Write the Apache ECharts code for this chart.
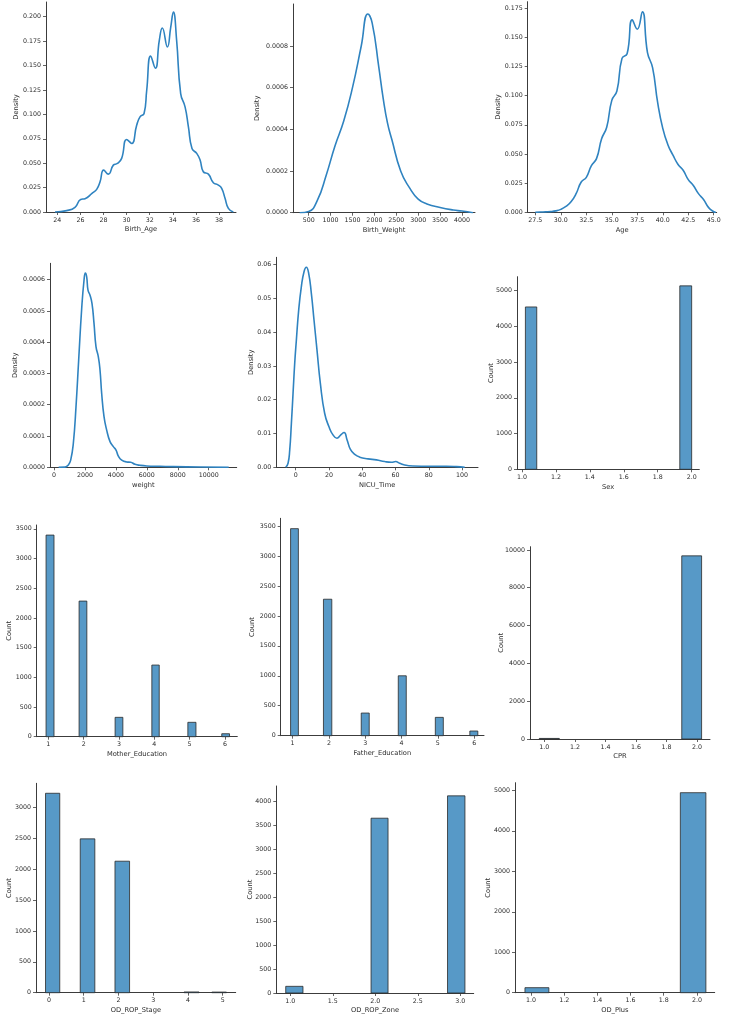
<!DOCTYPE html>
<html>
<head>
<meta charset="utf-8">
<title>Feature distributions</title>
<script src="https://cdn.jsdelivr.net/npm/echarts@6.0.0/dist/echarts.min.js"></script>
<style>
  html, body { margin: 0; padding: 0; background: #fff; }
  #chart { width: 729px; height: 1016px; }
</style>
</head>
<body>
<div id="chart"></div>
<script>
// ---- KDE curves ----
const birthAgeX = [23.80, 24.81, 25.53, 26.02, 26.40, 27.00, 27.41, 27.70, 28.01, 28.42, 28.85, 29.20, 29.57, 30.00, 30.44, 30.87, 31.16, 31.51, 31.74, 32.08, 32.49, 32.83, 33.09, 33.53, 33.82, 34.05, 34.33, 34.68, 35.06, 35.35, 35.66, 36.07, 36.36, 36.64, 37.08, 37.51, 37.94, 38.23, 38.52, 38.81, 39.24];
const birthAgeY = [0, 0.0014, 0.0048, 0.0129, 0.0136, 0.0191, 0.0232, 0.0310, 0.0429, 0.0388, 0.0480, 0.0497, 0.0549, 0.0743, 0.0702, 0.0889, 0.0974, 0.1009, 0.1247, 0.1598, 0.1472, 0.1758, 0.1884, 0.1690, 0.1894, 0.2048, 0.1758, 0.1213, 0.1077, 0.0872, 0.0651, 0.0600, 0.0532, 0.0412, 0.0388, 0.0300, 0.0276, 0.0242, 0.0140, 0.0037, 0];

const birthWeightX = [295, 500, 700, 900, 1100, 1300, 1500, 1700, 1850, 1950, 2100, 2200, 2300, 2400, 2600, 2800, 3000, 3200, 3500, 3800, 4000, 4250];
const birthWeightY = [0, 0.000006, 0.00006, 0.00018, 0.00032, 0.00044, 0.0006, 0.0008, 0.000954, 0.00091, 0.0007, 0.00055, 0.00043, 0.00035, 0.0002, 0.00012, 0.000065, 0.000042, 0.000025, 0.000013, 0.000008, 0];

const ageX = [27.5, 28, 28.5, 29, 29.5, 30, 30.5, 31, 31.5, 32, 32.5, 33, 33.5, 34, 34.5, 35, 35.5, 36, 36.5, 37, 37.5, 38, 38.5, 39, 39.5, 40, 40.5, 41, 41.5, 42, 42.5, 43, 43.5, 44, 44.5, 45, 45.2];
const ageY = [0, 0.0002, 0.0004, 0.0006, 0.0012, 0.0025, 0.005, 0.009, 0.016, 0.026, 0.030, 0.040, 0.046, 0.063, 0.073, 0.096, 0.104, 0.132, 0.136, 0.165, 0.157, 0.172, 0.137, 0.124, 0.094, 0.072, 0.058, 0.049, 0.041, 0.036, 0.028, 0.023, 0.016, 0.011, 0.004, 0.0005, 0];

const weightX = [300, 711, 927, 1078, 1250, 1422, 1595, 1789, 1940, 2026, 2112, 2198, 2328, 2457, 2586, 2716, 2866, 2974, 3082, 3233, 3405, 3621, 3836, 4009, 4159, 4375, 4698, 4957, 5237, 5560, 5991, 6853, 7716, 9440, 11293];
const weightY = [0, 0.0000005, 0.0000074, 0.000023, 0.000077, 0.000194, 0.000343, 0.000507, 0.000598, 0.000621, 0.000609, 0.000566, 0.000550, 0.000523, 0.000460, 0.000385, 0.000353, 0.000311, 0.000236, 0.000162, 0.000119, 0.000082, 0.000066, 0.000055, 0.000036, 0.000023, 0.000017, 0.000016, 0.0000096, 0.0000064, 0.0000043, 0.0000032, 0.0000021, 0.000001, 0];

const nicuX = [-6.0, -4.6, -3.6, -2.6, -1.6, -0.6, 0.4, 1.8, 3.4, 5.0, 6.4, 7.8, 9.4, 11.0, 12.8, 14.8, 17.4, 20.0, 22.4, 24.8, 27.1, 29.1, 30.9, 32.9, 35.5, 38.5, 43.5, 48.5, 53.5, 57.5, 60.1, 62.5, 65.5, 70.5, 80.6, 90.6, 96.6, 101.6];
const nicuY = [0, 0.0012, 0.0051, 0.0130, 0.0219, 0.0308, 0.0377, 0.0466, 0.0535, 0.0579, 0.0592, 0.0574, 0.0515, 0.0436, 0.0347, 0.0249, 0.0160, 0.0120, 0.0096, 0.0086, 0.0096, 0.0103, 0.0081, 0.0053, 0.0038, 0.0030, 0.0025, 0.0022, 0.0017, 0.0015, 0.0017, 0.0012, 0.0007, 0.0004, 0.0003, 0.0003, 0.0002, 0];

// ---- histograms: bin [left, right] and count ----
const sexBins = [[1.02, 1.087], [1.93, 2.0]];
const sexCounts = [4540, 5130];

const motherEduBins = [[0.935, 1.16], [1.87, 2.09], [2.89, 3.11], [3.93, 4.14], [4.95, 5.18], [5.91, 6.13]];
const motherEduCounts = [3394, 2283, 326, 1206, 242, 50];

const fatherEduBins = [[0.945, 1.16], [1.85, 2.08], [2.89, 3.11], [3.91, 4.13], [4.93, 5.15], [5.88, 6.1]];
const fatherEduCounts = [3456, 2278, 378, 1000, 306, 78];

const cprBins = [[0.967, 1.098], [1.90, 2.03]];
const cprCounts = [30, 9684];

const ropStageBins = [[-0.1, 0.31], [0.9, 1.32], [1.9, 2.32], [3.89, 4.32], [4.69, 5.11]];
const ropStageCounts = [3232, 2493, 2131, 12, 10];

const ropZoneBins = [[0.946, 1.149], [1.95, 2.15], [2.85, 3.055]];
const ropZoneCounts = [139, 3645, 4111];

const odPlusBins = [[0.964, 1.108], [1.90, 2.054]];
const odPlusCounts = [124, 4942];

// ---- tick values ----
const birthAgeTicks = [24, 26, 28, 30, 32, 34, 36, 38];
const birthAgeDensTicks = [0, 0.025, 0.05, 0.075, 0.1, 0.125, 0.15, 0.175, 0.2];
const birthWeightTicks = [500, 1000, 1500, 2000, 2500, 3000, 3500, 4000];
const birthWeightDensTicks = [0, 0.0002, 0.0004, 0.0006, 0.0008];
const ageTicks = [27.5, 30, 32.5, 35, 37.5, 40, 42.5, 45];
const ageDensTicks = [0, 0.025, 0.05, 0.075, 0.1, 0.125, 0.15, 0.175];
const weightTicks = [0, 2000, 4000, 6000, 8000, 10000];
const weightDensTicks = [0, 0.0001, 0.0002, 0.0003, 0.0004, 0.0005, 0.0006];
const nicuTicks = [0, 20, 40, 60, 80, 100];
const nicuDensTicks = [0, 0.01, 0.02, 0.03, 0.04, 0.05, 0.06];
const binaryTicks = [1.0, 1.2, 1.4, 1.6, 1.8, 2.0];
const sexCountTicks = [0, 1000, 2000, 3000, 4000, 5000];
const eduTicks = [1, 2, 3, 4, 5, 6];
const eduCountTicks = [0, 500, 1000, 1500, 2000, 2500, 3000, 3500];
const cprCountTicks = [0, 2000, 4000, 6000, 8000, 10000];
const stageTicks = [0, 1, 2, 3, 4, 5];
const stageCountTicks = [0, 500, 1000, 1500, 2000, 2500, 3000];
const zoneTicks = [1.0, 1.5, 2.0, 2.5, 3.0];
const zoneCountTicks = [0, 500, 1000, 1500, 2000, 2500, 3000, 3500, 4000];
const plusCountTicks = [0, 1000, 2000, 3000, 4000, 5000];

const LINE_COLOR = '#2f83c0';
const BAR_FILL = '#5799c7';
const BAR_EDGE = '#2a2a2a';
const AXIS_COLOR = '#3c3c3c';
const TEXT_COLOR = '#2a2a2a';

const zip = (xs, ys) => xs.map((x, i) => [x, ys[i]]);
const binData = (bins, counts) => bins.map((b, i) => [b[0], b[1], counts[i]]);

// layout of every subplot, measured in page pixels
const panels = [
  { rect: [46, 2, 190, 210], x: [23.02, 39.47], xt: birthAgeTicks, xd: 0, yt: birthAgeDensTicks, yd: 3, xName: 'Birth_Age', yName: 'Density', yGap: 26, kde: zip(birthAgeX, birthAgeY) },
  { rect: [293, 4, 182, 208.7], x: [142, 4297], xt: birthWeightTicks, xd: 0, yt: birthWeightDensTicks, yd: 4, xName: 'Birth_Weight', yName: 'Density', yGap: 32, kde: zip(birthWeightX, birthWeightY) },
  { rect: [527.7, 1.7, 189, 210.6], x: [26.75, 45.29], xt: ageTicks, xd: 1, yt: ageDensTicks, yd: 3, xName: 'Age', yName: 'Density', yGap: 26, kde: zip(ageX, ageY) },
  { rect: [50, 263.3, 186.7, 204], x: [-259, 11810], xt: weightTicks, xd: 0, yt: weightDensTicks, yd: 4, xName: 'weight', yName: 'Density', yGap: 31, kde: zip(weightX, weightY) },
  { rect: [276.3, 257.3, 201.7, 210], x: [-11.67, 109.6], xt: nicuTicks, xd: 0, yt: nicuDensTicks, yd: 2, xName: 'NICU_Time', yName: 'Density', yGap: 22, kde: zip(nicuX, nicuY) },
  { rect: [517, 276.7, 182.3, 192.6], x: [0.9705, 2.045], xt: binaryTicks, xd: 1, yt: sexCountTicks, yd: 0, xName: 'Sex', yName: 'Count', yGap: 22, bins: binData(sexBins, sexCounts) },
  { rect: [36.7, 525, 200.6, 211.7], x: [0.67, 6.35], xt: eduTicks, xd: 0, yt: eduCountTicks, yd: 0, xName: 'Mother_Education', yName: 'Count', yGap: 24, bins: binData(motherEduBins, motherEduCounts) },
  { rect: [280.7, 518.3, 203.3, 217.4], x: [0.673, 6.27], xt: eduTicks, xd: 0, yt: eduCountTicks, yd: 0, xName: 'Father_Education', yName: 'Count', yGap: 25, bins: binData(fatherEduBins, fatherEduCounts) },
  { rect: [530, 546.7, 180, 192.3], x: [0.906, 2.085], xt: binaryTicks, xd: 1, yt: cprCountTicks, yd: 0, xName: 'CPR', yName: 'Count', yGap: 25, bins: binData(cprBins, cprCounts) },
  { rect: [36, 783.3, 199.7, 209.4], x: [-0.374, 5.376], xt: stageTicks, xd: 0, yt: stageCountTicks, yd: 0, xName: 'OD_ROP_Stage', yName: 'Count', yGap: 23, bins: binData(ropStageBins, ropStageCounts) },
  { rect: [276.3, 786, 197.4, 207], x: [0.835, 3.158], xt: zoneTicks, xd: 1, yt: zoneCountTicks, yd: 0, xName: 'OD_ROP_Zone', yName: 'Count', yGap: 23, bins: binData(ropZoneBins, ropZoneCounts) },
  { rect: [515, 782.7, 199.7, 210], x: [0.904, 2.107], xt: binaryTicks, xd: 1, yt: plusCountTicks, yd: 0, xName: 'OD_Plus', yName: 'Count', yGap: 23, bins: binData(odPlusBins, odPlusCounts) }
];

const labelStyle = { fontSize: 6.3, color: TEXT_COLOR, fontFamily: 'DejaVu Sans' };
const nameStyle = { fontSize: 6.7, color: TEXT_COLOR, fontFamily: 'DejaVu Sans' };

function renderBin(params, api) {
  const top = api.coord([api.value(0), api.value(2)]);
  const base = api.coord([api.value(1), 0]);
  return {
    type: 'rect',
    shape: { x: top[0], y: top[1], width: base[0] - top[0], height: base[1] - top[1] },
    style: { fill: BAR_FILL, stroke: BAR_EDGE, lineWidth: 0.8 }
  };
}

const grid = [], xAxis = [], yAxis = [], series = [];
panels.forEach((p, i) => {
  const peak = p.kde ? Math.max(...p.kde.map(d => d[1])) : Math.max(...p.bins.map(d => d[2]));
  grid.push({ left: p.rect[0], top: p.rect[1], width: p.rect[2], height: p.rect[3], outerBoundsMode: 'none' });
  xAxis.push({
    type: 'value', gridIndex: i, min: p.x[0], max: p.x[1],
    name: p.xName, nameLocation: 'middle', nameGap: 14, nameTextStyle: nameStyle, nameMoveOverlap: false,
    axisLine: { onZero: false, lineStyle: { color: AXIS_COLOR, width: 1 } },
    axisTick: { customValues: p.xt, length: 3, lineStyle: { color: AXIS_COLOR, width: 0.8 } },
    axisLabel: Object.assign({ customValues: p.xt, margin: 5, formatter: v => v.toFixed(p.xd) }, labelStyle),
    splitLine: { show: false }
  });
  yAxis.push({
    type: 'value', gridIndex: i, min: 0, max: peak * 1.05,
    name: p.yName, nameLocation: 'middle', nameGap: p.yGap, nameTextStyle: nameStyle, nameMoveOverlap: false,
    axisLine: { show: true, onZero: false, lineStyle: { color: AXIS_COLOR, width: 1 } },
    axisTick: { show: true, customValues: p.yt, length: 3, lineStyle: { color: AXIS_COLOR, width: 0.8 } },
    axisLabel: Object.assign({ customValues: p.yt, margin: 5, formatter: v => v.toFixed(p.yd) }, labelStyle),
    splitLine: { show: false }
  });
  if (p.kde) {
    series.push({
      type: 'line', xAxisIndex: i, yAxisIndex: i, data: p.kde,
      showSymbol: false, smooth: 0.5,
      lineStyle: { color: LINE_COLOR, width: 1.6 }
    });
  } else {
    series.push({
      type: 'custom', xAxisIndex: i, yAxisIndex: i, data: p.bins,
      encode: { x: [0, 1], y: 2 }, renderItem: renderBin
    });
  }
});

const chart = echarts.init(document.getElementById('chart'), null, { renderer: 'canvas' });
chart.setOption({ animation: false, backgroundColor: '#fff', grid, xAxis, yAxis, series });
</script>
</body>
</html>
